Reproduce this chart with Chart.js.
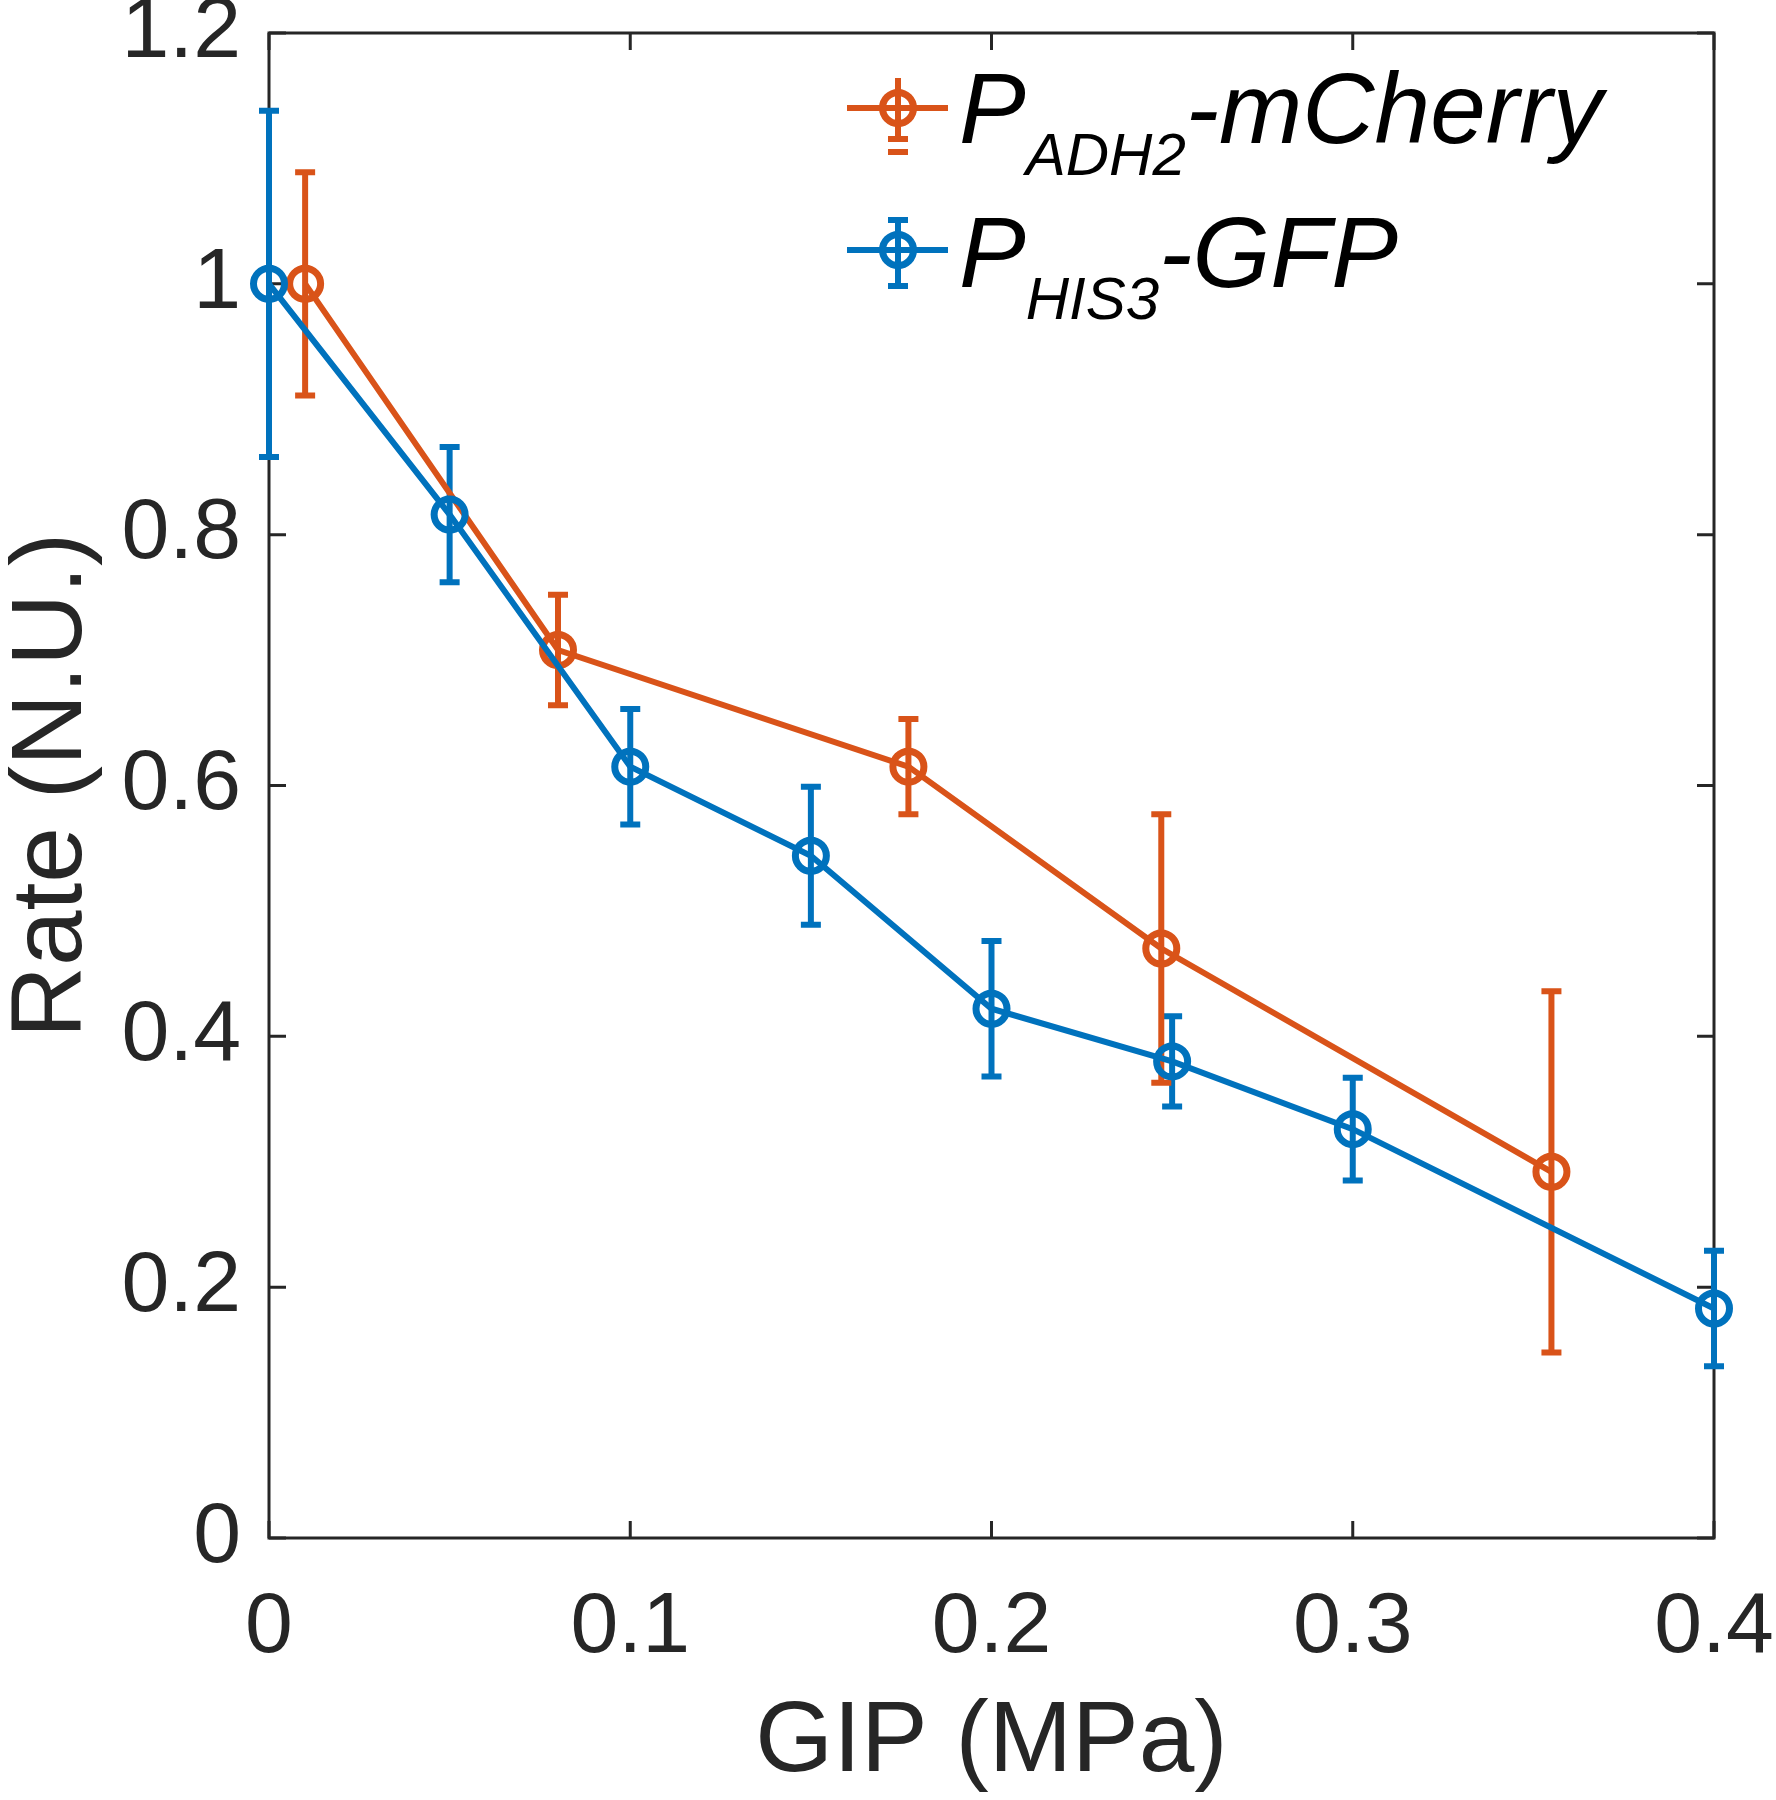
<!DOCTYPE html>
<html>
<head>
<meta charset="utf-8">
<script src="https://cdn.jsdelivr.net/npm/chart.js@4.4.1/dist/chart.umd.min.js"></script>
<style>
  html,body{margin:0;padding:0;background:#fff;}
  canvas{display:block;}
</style>
</head>
<body>
<canvas id="chart" width="1776" height="1800"></canvas>
<script>
// === data ===
const xOrange=[0.01,0.08,0.177,0.247,0.355];
const yOrange=[1.0,0.708,0.615,0.470,0.292];
const eOrange=[0.089,0.044,0.038,0.107,0.144];

const xBlue=[0,0.05,0.1,0.15,0.2,0.25,0.3,0.4];
const yBlue=[1.0,0.816,0.615,0.544,0.422,0.380,0.326,0.183];
const eBlue=[0.138,0.054,0.046,0.055,0.054,0.036,0.041,0.046];

const xTicks=[0,0.1,0.2,0.3,0.4];
const yTicks=[0,0.2,0.4,0.6,0.8,1,1.2];

const legendItems=[
  {main:'P',sub:'ADH2',rest:'-mCherry'},
  {main:'P',sub:'HIS3',rest:'-GFP'}
];

const ORANGE='#D95319', BLUE='#0072BD', AXIS='#262626';
const FONT='"Liberation Sans", Arial, Helvetica, sans-serif';
const LW=6;

// === error bars ===
function drawErr(ctx,x,yTop,yBot,half,color,capTop=true){
  ctx.strokeStyle=color;ctx.lineWidth=LW;ctx.lineCap='butt';
  ctx.beginPath();
  ctx.moveTo(x,yTop);ctx.lineTo(x,yBot);
  if(capTop){ctx.moveTo(x-half,yTop);ctx.lineTo(x+half,yTop);}
  ctx.moveTo(x-half,yBot);ctx.lineTo(x+half,yBot);
  ctx.stroke();
}

const errPlugin={
  id:'errbars',
  beforeDatasetsDraw(chart){
    const {ctx,scales:{x,y},chartArea:a}=chart;
    ctx.save();
    // box + inward ticks
    ctx.strokeStyle=AXIS;ctx.lineWidth=3;
    ctx.strokeRect(a.left,a.top,a.right-a.left,a.bottom-a.top);
    ctx.beginPath();
    xTicks.forEach(v=>{
      const px=x.getPixelForValue(v);
      ctx.moveTo(px,a.bottom);ctx.lineTo(px,a.bottom-17);
      ctx.moveTo(px,a.top);ctx.lineTo(px,a.top+17);
    });
    yTicks.forEach(v=>{
      const py=y.getPixelForValue(v);
      ctx.moveTo(a.left,py);ctx.lineTo(a.left+17,py);
      ctx.moveTo(a.right,py);ctx.lineTo(a.right-17,py);
    });
    ctx.stroke();
    // error bars, orange first so blue sits on top
    chart.data.datasets.slice().reverse().forEach(ds=>{
      ds.data.forEach((p,i)=>{
        const e=ds.errors[i];
        drawErr(ctx,x.getPixelForValue(p.x),y.getPixelForValue(p.y+e),y.getPixelForValue(p.y-e),10,ds.borderColor);
      });
    });
    ctx.restore();
  },
  afterDraw(chart){
    // legend with subscripts
    const ctx=chart.ctx;
    const colors=[ORANGE,BLUE];
    const rows=[{cy:108,base:143,subBase:175},{cy:250,base:287,subBase:319}];
    ctx.save();
    legendItems.forEach((it,i)=>{
      const r=rows[i],c=colors[i];
      ctx.strokeStyle=c;ctx.lineWidth=LW;
      ctx.beginPath();ctx.moveTo(847,r.cy);ctx.lineTo(948,r.cy);ctx.stroke();
      if(i===0){
        drawErr(ctx,898,r.cy-30,r.cy+31,10,c,false);
        ctx.beginPath();ctx.moveTo(888,r.cy+44);ctx.lineTo(908,r.cy+44);ctx.stroke();
      }else{
        drawErr(ctx,898,r.cy-30,r.cy+36,10,c);
      }
      ctx.lineWidth=7;
      ctx.beginPath();ctx.arc(898,r.cy,15.5,0,Math.PI*2);ctx.stroke();
      ctx.fillStyle='#000';ctx.textBaseline='alphabetic';ctx.textAlign='left';
      let tx=959;
      ctx.font='italic 100px '+FONT;
      ctx.fillText(it.main,tx,r.base);tx+=ctx.measureText(it.main).width;
      ctx.font='italic 60px '+FONT;
      ctx.fillText(it.sub,tx,r.subBase);tx+=ctx.measureText(it.sub).width;
      ctx.font='italic 100px '+FONT;
      ctx.fillText(it.rest,tx,r.base);
    });
    ctx.restore();
  }
};

const fmt=v=>String(Math.round(v*10)/10);

new Chart(document.getElementById('chart').getContext('2d'),{
  type:'scatter',
  data:{
    datasets:[
      {
        label:'P ADH2-mCherry',
        data:xOrange.map((v,i)=>({x:v,y:yOrange[i]})),
        errors:eOrange,
        showLine:true,borderColor:ORANGE,borderWidth:LW,backgroundColor:'rgba(0,0,0,0)',
        pointRadius:15.5,pointBorderWidth:7,pointBorderColor:ORANGE,pointBackgroundColor:'rgba(0,0,0,0)',
        order:2,clip:false
      },
      {
        label:'P HIS3-GFP',
        data:xBlue.map((v,i)=>({x:v,y:yBlue[i]})),
        errors:eBlue,
        showLine:true,borderColor:BLUE,borderWidth:LW,backgroundColor:'rgba(0,0,0,0)',
        pointRadius:15.5,pointBorderWidth:7,pointBorderColor:BLUE,pointBackgroundColor:'rgba(0,0,0,0)',
        order:1,clip:false
      }
    ]
  },
  options:{
    responsive:false,animation:false,
    layout:{padding:{top:33,right:62,left:0,bottom:0}},
    plugins:{legend:{display:false},tooltip:{enabled:false}},
    scales:{
      x:{
        type:'linear',min:0,max:0.4,
        afterBuildTicks(s){s.ticks=xTicks.map(v=>({value:v}));},
        ticks:{padding:39,color:AXIS,font:{family:FONT,size:86},maxRotation:0,callback:fmt},
        grid:{display:false,drawTicks:false},border:{display:false},
        title:{display:true,text:'GIP (MPa)',color:AXIS,font:{family:FONT,size:100,lineHeight:1},padding:{top:0,bottom:7}},
        afterFit(s){s.height=262;s.paddingLeft=0;s.paddingRight=0;}
      },
      y:{
        type:'linear',min:0,max:1.2,
        afterBuildTicks(s){s.ticks=yTicks.map(v=>({value:v}));},
        ticks:{padding:28,color:AXIS,font:{family:FONT,size:86},callback:fmt},
        grid:{display:false,drawTicks:false},border:{display:false},
        title:{display:true,text:'Rate (N.U.)',color:AXIS,font:{family:FONT,size:100,lineHeight:1},padding:{top:3,bottom:0}},
        afterFit(s){s.width=269;s.paddingTop=0;s.paddingBottom=0;}
      }
    }
  },
  plugins:[errPlugin]
});
</script>
</body>
</html>
